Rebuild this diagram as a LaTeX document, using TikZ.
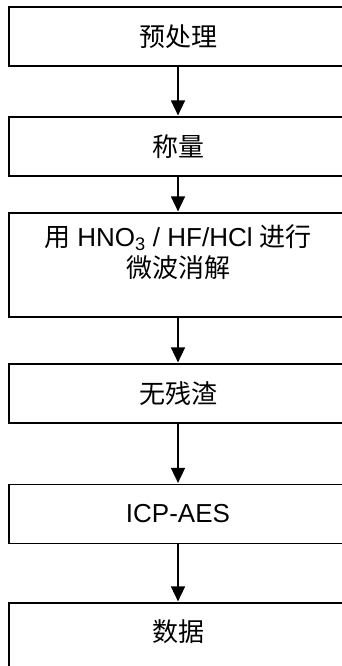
\documentclass[tikz,border=0pt]{standalone}
\usepackage{fontspec}
\setmainfont{Liberation Sans}
\newfontfamily\cjk{Noto Sans CJK SC}
\usetikzlibrary{arrows.meta}
\begin{document}
\begin{tikzpicture}[x=1pt,y=-1pt,
  stepbox/.style={draw=black, line width=1.6pt, rectangle, minimum width=338pt, inner sep=0pt,
    font=\fontsize{26}{31}\selectfont},
  flow/.style={draw=black, line width=1.6pt, -{Triangle[width=14pt,length=15pt]}, shorten >=0.8pt},
  lbl/.style={inner sep=0pt, align=center, font=\fontsize{26}{31}\selectfont}]
\useasboundingbox (0,0) rectangle (342,666);
\node[stepbox, minimum height=59pt] (b1) at (178,36.5) {\cjk 预处理};
\node[stepbox, minimum height=59pt] (b2) at (178,146.5) {\cjk 称量};
\node[stepbox, minimum height=104pt] (b3) at (178,265) {};
\node[lbl, anchor=north] (t3) at ([yshift=-12pt]b3.north) {{\cjk 用} HNO$_{\mathrm{3}}$ / HF/HCl {\cjk 进行}\\{\cjk 微波消解}};
\node[stepbox, minimum height=59pt] (b4) at (178,393.5) {\cjk 无残渣};
\node[stepbox, minimum height=59pt] (b5) at (178,514) {ICP-AES};
\node[stepbox, minimum height=70pt] (b6) at (178,638) {};
\node[lbl] (t6) at (178,632) {\cjk 数据};
\draw[flow] (b1) -- (b2);
\draw[flow] (b2) -- (b3);
\draw[flow] (b3) -- (b4);
\draw[flow] (b4) -- (b5);
\draw[flow] (b5) -- (b6);
\end{tikzpicture}
\end{document}
